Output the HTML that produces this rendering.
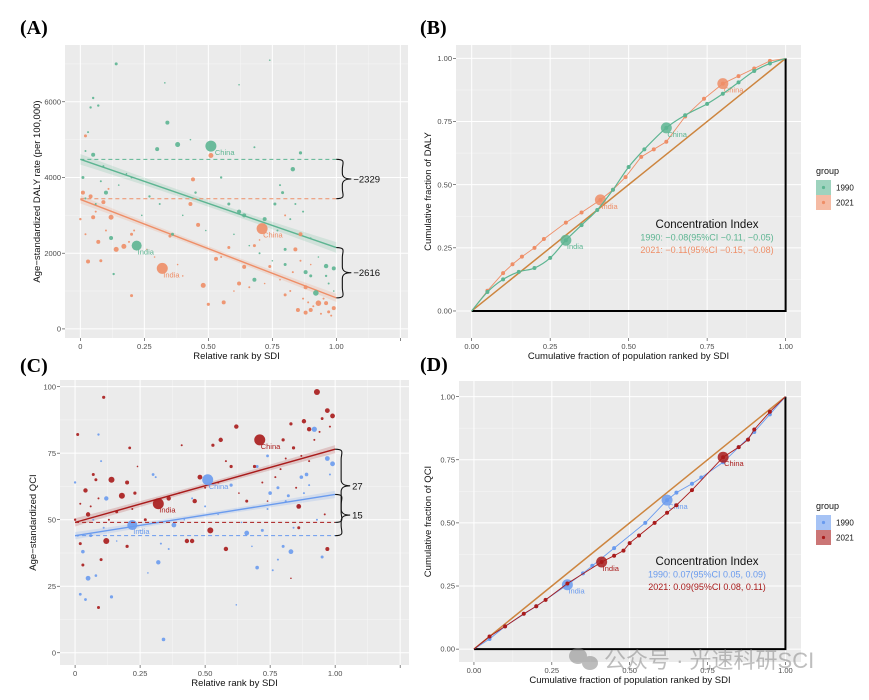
<!DOCTYPE html>
<html><head><meta charset="utf-8"><style>
body{margin:0;background:#fff;width:869px;height:695px;overflow:hidden}
svg text{font-family:"Liberation Sans","Noto Sans CJK SC",sans-serif}
.pl{font-family:"Liberation Serif",serif!important;font-weight:bold;font-size:20px}
</style></head><body>
<svg id="s" width="869" height="695" viewBox="0 0 869 695" xmlns="http://www.w3.org/2000/svg"></svg>
<script>
// ---- data ----
const aTicksY=[0,2000,4000,6000];
const relTicks=[0,0.25,0.5,0.75,1];
const relTickLabels=["0","0.25","0.50","0.75","1.00"];
const fracTicks=[0,0.25,0.5,0.75,1];
const fracTickLabels=["0.00","0.25","0.50","0.75","1.00"];
const a1990=[[0.51,4830,5.5],[0.22,2200,5],[0.38,4870,2.5],[0.34,5450,2],[0.14,7000,1.5],[0.83,4220,2.2],[0.86,4650,1.6],[0.96,1660,2.2],[0.99,1600,2],[0.92,950,2.8],[0.68,1300,2],[0.64,3000,2],[0.62,3100,2],[0.72,2900,2],[0.05,4600,2],[0.12,2400,2],[0.1,3600,2],[0.01,4000,1.5],[0.04,5850,1.2],[0.07,5900,1.2],[0.3,4750,2],[0.36,2500,1.5],[0.58,3300,1.5],[0.76,3300,1.5],[0.79,3600,1.5],[0.8,1700,1.5],[0.88,1500,2],[0.9,1400,1.5],[0.13,1450,1.2],[0.05,6100,1.2],[0.27,3500,1.2],[0.45,3600,1.2],[0.55,4000,1.2],[0.8,2100,1.5],[0.96,1400,1.2],[0.33,6500,0.8],[0.74,7100,0.8],[0.62,6450,0.8],[0.2,4000,1],[0.68,4800,1],
[0.02,3450,1],[0.06,3300,1],[0.08,3900,1],[0.09,4300,1],[0.15,3800,0.8],[0.18,4100,0.8],[0.24,3000,0.8],[0.31,3300,1],[0.4,3000,0.8],[0.49,2600,0.8],[0.6,2500,0.8],[0.66,2200,0.8],[0.7,2000,1],[0.77,2600,1],[0.78,3800,1],[0.82,2900,1],[0.84,3300,1],[0.87,3100,1],[0.9,2400,0.8],[0.93,1900,0.8],[0.97,1200,1],[0.99,1000,0.8],[0.75,1800,0.8],[0.43,5000,0.8],[0.02,4700,1],[0.03,5200,1]];
const a2021=[[0.71,2650,5.5],[0.32,1600,5.5],[0.51,4580,2.5],[0.44,3950,2],[0.43,3300,2],[0.46,2750,2],[0.35,2450,1.5],[0.17,2180,2.5],[0.14,2100,2.5],[0.12,2950,2.5],[0.05,2950,2],[0.03,1780,2],[0.08,1800,1.5],[0.07,2300,2],[0.48,1150,2.5],[0.56,700,2],[0.5,650,1.6],[0.62,1200,2],[0.64,1640,2],[0.93,680,2.8],[0.96,680,2],[0.99,550,2],[0.9,500,2],[0.88,430,2],[0.86,2500,2],[0.84,2100,2],[0.88,1100,2],[0.8,900,1.5],[0.02,5100,1.5],[0.2,880,1.5],[0.04,3500,2],[0.09,3350,2],[0.53,1850,2],[0.58,2150,1.5],[0.74,1650,1.5],[0.85,500,2],[0.97,450,1.5],[0.68,2200,1.5],[0.2,2500,1.5],[0.01,3600,2],
[0.0,2900,1.2],[0.02,2500,1],[0.06,3100,1],[0.1,2600,1],[0.11,3700,1],[0.19,2300,1],[0.21,2600,1],[0.26,2100,0.8],[0.29,1900,0.8],[0.38,1700,0.8],[0.4,1400,0.8],[0.55,1900,1],[0.6,1000,0.8],[0.66,1100,1],[0.72,1200,0.8],[0.78,1300,0.8],[0.82,1000,1],[0.83,1500,1],[0.87,800,1],[0.89,700,1],[0.91,600,1],[0.94,400,1],[0.98,350,1],[0.95,800,1],[0.86,1800,1],[0.8,3000,1],[0.9,1700,0.8],[0.7,2350,0.8]];
const aFit1990=[4480,2150], aFit2021=[3420,820], aBase1990=4480, aBase2021=3440;
const aGapLabels=["\u22122329","\u22122616"];
const bL1990=[[0,0],[0.05,0.075],[0.1,0.125],[0.15,0.155],[0.2,0.17],[0.25,0.21],[0.3,0.28],[0.35,0.34],[0.4,0.4],[0.45,0.48],[0.5,0.57],[0.55,0.64],[0.62,0.725],[0.68,0.775],[0.75,0.82],[0.8,0.86],[0.85,0.905],[0.9,0.95],[0.95,0.98],[1,1]];
const bL2021=[[0,0],[0.05,0.08],[0.1,0.15],[0.13,0.185],[0.16,0.215],[0.2,0.25],[0.23,0.285],[0.3,0.35],[0.35,0.39],[0.41,0.44],[0.45,0.48],[0.49,0.53],[0.54,0.61],[0.58,0.64],[0.62,0.67],[0.68,0.77],[0.74,0.84],[0.8,0.9],[0.85,0.93],[0.9,0.96],[0.95,0.99],[1,1]];
const bBig1990=[[0.3,0.28,"India"],[0.62,0.725,"China"]], bBig2021=[[0.41,0.44,"India"],[0.8,0.9,"China"]];
const cTicksY=[0,25,50,75,100];
const c1990=[[0.51,65,5.5],[0.22,48,5],[0.92,84,2.6],[0.97,73,2.4],[0.99,71,2.4],[0.87,66,1.8],[0.89,67,1.8],[0.05,28,2.4],[0.03,38,1.8],[0.12,58,2.2],[0.34,5,1.8],[0.32,34,2.2],[0.38,48,2.4],[0.66,45,2.4],[0.7,32,1.8],[0.83,38,2.4],[0.86,55,1.8],[0.75,60,1.8],[0.6,63,1.6],[0.02,22,1.4],[0.04,20,1.4],[0.14,21,1.6],[0.09,82,1.2],[0.0,64,1.2],[0.3,67,1.4],[0.74,74,1.4],[0.95,36,1.5],[0.78,62,1.5],[0.8,40,1.5],[0.72,46,1.5],[0.08,29,1.3],[0.1,72,1],[0.5,55,1],[0.45,58,1],[0.7,70,1.5],[0.06,44,1.5],[0.82,59,1.5],[0.31,66,1],
[0.01,44,1],[0.07,50,1],[0.11,47,1],[0.16,42,0.8],[0.25,46,0.8],[0.33,41,1],[0.36,39,1],[0.42,50,0.8],[0.55,52,0.8],[0.62,18,0.8],[0.68,40,0.8],[0.76,31,1],[0.78,35,1],[0.81,57,1],[0.84,47,1],[0.88,60,1],[0.9,63,1],[0.93,50,1],[0.98,67,1],[0.74,54,1],[0.64,49,0.8],[0.28,30,0.8]];
const c2021=[[0.71,80,5.5],[0.32,56,5.5],[0.93,98,3],[0.97,91,2.4],[0.99,89,2.4],[0.88,87,2.2],[0.9,84,2.2],[0.62,85,2.2],[0.56,80,2.2],[0.53,78,1.6],[0.48,66,2.4],[0.14,65,3],[0.18,59,3],[0.36,58,2.2],[0.2,64,2],[0.04,61,2.2],[0.05,52,2.2],[0.12,42,3],[0.11,96,1.6],[0.01,82,1.5],[0.23,60,1.6],[0.46,57,2.2],[0.52,46,3],[0.43,42,2.2],[0.45,42,2.2],[0.58,39,2.2],[0.86,55,2.4],[0.97,39,2],[0.03,33,1.5],[0.09,17,1.5],[0.1,35,1.5],[0.2,40,1.6],[0.83,86,1.6],[0.8,80,1.6],[0.69,70,1.6],[0.6,70,1.6],[0.27,50,1.5],[0.02,41,1.5],[0.08,65,1.5],[0.21,77,1.4],[0.95,88,1.4],[0.84,77,1.6],[0.86,47,1.5],[0.66,57,1.5],[0.07,67,1.5],[0.16,53,1.5],
[0.0,50,1.2],[0.02,56,1],[0.06,55,1],[0.09,58,1],[0.13,50,1],[0.22,54,1],[0.24,70,0.8],[0.4,60,0.8],[0.5,62,1],[0.55,64,1],[0.58,72,1],[0.63,60,0.8],[0.72,64,1],[0.77,66,1],[0.79,69,1],[0.81,73,1],[0.85,62,1],[0.87,74,1],[0.9,72,1],[0.92,80,1],[0.94,83,1],[0.98,85,1],[0.96,52,1],[0.83,28,0.8],[0.74,57,0.8],[0.41,78,1]];
const cFit1990=[44,59.5], cFit2021=[49,76.5], cBase1990=44, cBase2021=49;
const cGapLabels=["27","15"];
const dL1990=[[0,0],[0.05,0.04],[0.1,0.09],[0.2,0.17],[0.3,0.255],[0.35,0.3],[0.38,0.33],[0.45,0.4],[0.55,0.5],[0.62,0.59],[0.65,0.62],[0.7,0.655],[0.73,0.68],[0.8,0.74],[0.85,0.8],[0.9,0.86],[0.95,0.93],[1,1]];
const dL2021=[[0,0],[0.05,0.05],[0.1,0.09],[0.16,0.14],[0.2,0.17],[0.23,0.195],[0.3,0.26],[0.41,0.345],[0.45,0.37],[0.48,0.39],[0.5,0.42],[0.53,0.45],[0.58,0.5],[0.62,0.54],[0.65,0.57],[0.7,0.63],[0.8,0.76],[0.85,0.8],[0.88,0.83],[0.9,0.87],[0.95,0.94],[1,1]];
const dBig1990=[[0.3,0.255,"India"],[0.62,0.59,"China"]], dBig2021=[[0.41,0.345,"India"],[0.8,0.76,"China"]];

// ---- helpers ----
const S=document.getElementById('s'),NS="http://www.w3.org/2000/svg";
function el(t,a,p){const e=document.createElementNS(NS,t);for(const k in a)e.setAttribute(k,a[k]);(p||S).appendChild(e);return e;}
function txt(x,y,s,a,p){const e=el('text',Object.assign({x:x,y:y},a),p);e.textContent=s;return e;}
function mkScale(d0,d1,r0,r1){return v=>r0+(v-d0)/(d1-d0)*(r1-r0);}
function panel(P){
  const g=el('g',{});
  
  
  const bg=el('rect',{x:P.l,y:P.t,width:P.r-P.l,height:P.b-P.t,fill:'#ebebeb'},g);
  
  const X=mkScale(P.xd[0],P.xd[1],P.l,P.r),Y=mkScale(P.yd[0],P.yd[1],P.b,P.t);
  const xt=P.xt,yt=P.yt;
  const xm=[],ym=[];
  for(let i=0;i<xt.length;i++){xm.push(xt[i]+(xt[1]-xt[0])/2);}xm.push(xt[0]-(xt[1]-xt[0])/2);
  for(let i=0;i<yt.length;i++){ym.push(yt[i]+(yt[1]-yt[0])/2);}ym.push(yt[0]-(yt[1]-yt[0])/2);
  xm.forEach(v=>{const x=X(v);if(x>P.l&&x<P.r)el('line',{x1:x,x2:x,y1:P.t,y2:P.b,stroke:'#f7f7f7','stroke-width':0.5},g);});
  ym.forEach(v=>{const y=Y(v);if(y>P.t&&y<P.b)el('line',{x1:P.l,x2:P.r,y1:y,y2:y,stroke:'#f7f7f7','stroke-width':0.5},g);});
  const xl=P.xExtra?xt.concat(P.xExtra):xt;
  xl.forEach(v=>{const x=X(v);el('line',{x1:x,x2:x,y1:P.t,y2:P.b,stroke:'#fff','stroke-width':1},g);el('line',{x1:x,x2:x,y1:P.b,y2:P.b+3,stroke:'#333','stroke-width':0.6},g);});
  yt.forEach(v=>{const y=Y(v);el('line',{x1:P.l,x2:P.r,y1:y,y2:y,stroke:'#fff','stroke-width':1},g);el('line',{x1:P.l-3,x2:P.l,y1:y,y2:y,stroke:'#333','stroke-width':0.6},g);});
  xt.forEach((v,i)=>{const t=txt(X(v),P.b+11,P.xl[i],{'font-size':7.5,fill:'#4d4d4d','text-anchor':'middle'},g);});
  yt.forEach((v,i)=>{const t=txt(P.l-4,Y(v)+2.6,P.yl[i],{'font-size':7.5,fill:'#4d4d4d','text-anchor':'end'},g);});
  const xa=txt((P.l+P.r)/2,P.b+21,P.xTitle,{'font-size':9.5,fill:'#111','text-anchor':'middle'},g);
  
  const ya=txt(0,0,P.yTitle,{'font-size':9.5,fill:'#111','text-anchor':'middle',transform:`translate(${P.ytx},${(P.t+P.b)/2}) rotate(-90)`},g);
  
  const pl=txt(P.plx,P.ply,P.label,{class:'pl',fill:'#000'});
  
  return {g,X,Y};
}
function pts(g,X,Y,arr,col,op){arr.forEach(p=>{const c=el('circle',{cx:X(p[0]),cy:Y(p[1]),r:p[2],fill:col,'fill-opacity':op},g);});}
function fitLine(g,X,Y,fit,col,name){
  const n=20,up=[],lo=[];
  for(let i=0;i<=n;i++){const x=i/n,y=fit[0]+(fit[1]-fit[0])*x,w=(Y(0)-Y(fit[0]*0.035))*(0.55+1.4*Math.pow(x-0.5,2));up.push([X(x),Y(y)-w]);lo.unshift([X(x),Y(y)+w]);}
  const b=el('polygon',{points:up.concat(lo).map(p=>p.join(',')).join(' '),fill:col,'fill-opacity':0.18},g);
  
  const l=el('line',{x1:X(0),y1:Y(fit[0]),x2:X(1),y2:Y(fit[1]),stroke:col,'stroke-width':1.4},g);
  
}
function dash(g,X,Y,v,col,name){const l=el('line',{x1:X(0),y1:Y(v),x2:X(1),y2:Y(v),stroke:col,'stroke-width':1,'stroke-dasharray':'4,3'},g);}
function brace(g,x,y1,y2,lab){
  const m=(y1+y2)/2,w=10;
  const d=`M${x},${y1} C${x+w},${y1} ${x+w*0.6},${y1+4} ${x+w*0.6},${y1+10} L${x+w*0.6},${m-6} C${x+w*0.6},${m-1} ${x+w},${m} ${x+w+5},${m} C${x+w},${m} ${x+w*0.6},${m+1} ${x+w*0.6},${m+6} L${x+w*0.6},${y2-10} C${x+w*0.6},${y2-4} ${x+w},${y2} ${x},${y2}`;
  const p=el('path',{d:d,fill:'none',stroke:'#111','stroke-width':1.1},g);
  const t=txt(x+w+7,m+3.5,lab,{'font-size':9.5,fill:'#111'},g);
}
function spline(P){let d=`M${P[0][0]},${P[0][1]}`;for(let i=0;i<P.length-1;i++){const p0=P[i-1]||P[i],p1=P[i],p2=P[i+1],p3=P[i+2]||p2;d+=` C${p1[0]+(p2[0]-p0[0])/6},${p1[1]+(p2[1]-p0[1])/6} ${p2[0]-(p3[0]-p1[0])/6},${p2[1]-(p3[1]-p1[1])/6} ${p2[0]},${p2[1]}`;}return d;}
function lorenz(g,X,Y,arr,big,col,smooth,name){
  const P=arr.map(p=>[X(p[0]),Y(p[1])]);
  const l=el('path',{d:smooth?spline(P):'M'+P.map(p=>p.join(',')).join(' L'),fill:'none',stroke:col,'stroke-width':smooth?1.2:0.9},g);
  
  arr.forEach((p,i)=>{if(i>0&&i<arr.length-1){const c=el('circle',{cx:X(p[0]),cy:Y(p[1]),r:2,fill:col},g);}});
  big.forEach(p=>{const c=el('circle',{cx:X(p[0]),cy:Y(p[1]),r:5.5,fill:col,'fill-opacity':0.85},g);
    const t=txt(X(p[0])+1,Y(p[1])+9,p[2],{'font-size':7.5,fill:col},g);});
}
function eqLines(g,X,Y){
  const d=el('line',{x1:X(0),y1:Y(0),x2:X(1),y2:Y(1),stroke:'#cd853f','stroke-width':1.5},g);
  const b=el('polyline',{points:`${X(0)},${Y(0)} ${X(1)},${Y(0)} ${X(1)},${Y(1)}`,fill:'none',stroke:'#000','stroke-width':2},g);
}
function legend(x,y,c1,c2){
  const g=el('g',{});
  txt(x,y,'group',{'font-size':9,fill:'#111'},g);
  [[c1,'1990'],[c2,'2021']].forEach((k,i)=>{const yy=y+6+i*15;
    const r=el('rect',{x:x,y:yy,width:15,height:15,fill:k[0],'fill-opacity':0.6},g);
    el('circle',{cx:x+7.5,cy:yy+7.5,r:1.6,fill:k[0]},g);
    const t=txt(x+20,yy+10.5,k[1],{'font-size':8,fill:'#111'},g);});
}
function ci(g,x,y,l1,l2,c1,c2){
  const t=txt(x,y,'Concentration Index',{'font-size':11.5,fill:'#111','text-anchor':'middle'},g);
  const a=txt(x,y+12.5,l1,{'font-size':9,fill:c1,'text-anchor':'middle'},g);
  const b=txt(x,y+25,l2,{'font-size':9,fill:c2,'text-anchor':'middle'},g);
}
const G='#5db592',O='#ee8e67',BL='#6a9bee',R='#a91b1b';
// ---- Panel A ----
(function(){const {g,X,Y}=panel({name:'panel-a',l:65,r:408,t:45,b:338,xd:[-0.06,1.28],yd:[-240,7500],xt:relTicks,xl:relTickLabels,xExtra:[1.25],yt:aTicksY,yl:aTicksY.map(String),xTitle:'Relative rank by SDI',yTitle:'Age\u2212standardized DALY rate (per 100,000)',ytx:40,label:'(A)',plx:20,ply:34});
  fitLine(g,X,Y,aFit1990,G,'1990');fitLine(g,X,Y,aFit2021,O,'2021');
  pts(g,X,Y,a1990,G,0.9);pts(g,X,Y,a2021,O,0.9);
  dash(g,X,Y,aBase1990,G,'baseline-1990');dash(g,X,Y,aBase2021,O,'baseline-2021');
  txt(X(0.51)+4,Y(4830)+9,'China',{'font-size':7.5,fill:G},g);txt(X(0.22)+1,Y(2200)+9,'India',{'font-size':7.5,fill:G},g);
  txt(X(0.71)+1,Y(2650)+9,'China',{'font-size':7.5,fill:O},g);txt(X(0.32)+1,Y(1600)+9,'India',{'font-size':7.5,fill:O},g);
  brace(g,X(1),Y(aBase1990),Y(aBase2021),aGapLabels[0]);brace(g,X(1),Y(aFit1990[1]),Y(aFit2021[1]),aGapLabels[1]);
})();
// ---- Panel B ----
(function(){const {g,X,Y}=panel({name:'panel-b',l:456,r:801,t:45,b:338,xd:[-0.05,1.049],yd:[-0.107,1.053],xt:fracTicks,xl:fracTickLabels,yt:fracTicks,yl:fracTickLabels,xTitle:'Cumulative fraction of population ranked by SDI',yTitle:'Cumulative fraction of DALY',ytx:431,label:'(B)',plx:420,ply:34});
  eqLines(g,X,Y);lorenz(g,X,Y,bL2021,bBig2021,O,false,'2021');lorenz(g,X,Y,bL1990,bBig1990,G,true,'1990');
  ci(g,707,228,'1990: \u22120.08(95%CI \u22120.11, \u22120.05)','2021: \u22120.11(95%CI \u22120.15, \u22120.08)',G,O);
  legend(816,174,G,O);
})();
// ---- Panel C ----
(function(){const {g,X,Y}=panel({name:'panel-c',l:60,r:409,t:380,b:665,xd:[-0.058,1.284],yd:[-4.6,102.5],xt:relTicks,xl:relTickLabels,xExtra:[1.25],yt:cTicksY,yl:cTicksY.map(String),xTitle:'Relative rank by SDI',yTitle:'Age\u2212standardized QCI',ytx:36,label:'(C)',plx:20,ply:372});
  fitLine(g,X,Y,cFit1990,BL,'1990');fitLine(g,X,Y,cFit2021,R,'2021');
  pts(g,X,Y,c1990,BL,0.9);pts(g,X,Y,c2021,R,0.9);
  dash(g,X,Y,cBase2021,R,'baseline-2021');dash(g,X,Y,cBase1990,BL,'baseline-1990');
  txt(X(0.71)+1,Y(80)+9,'China',{'font-size':7.5,fill:R},g);txt(X(0.32)+1,Y(56)+9,'India',{'font-size':7.5,fill:R},g);
  txt(X(0.51)+1,Y(65)+9,'China',{'font-size':7.5,fill:BL},g);txt(X(0.22)+1,Y(48)+9,'India',{'font-size':7.5,fill:BL},g);
  brace(g,X(1),Y(cFit2021[1]),Y(cBase2021),cGapLabels[0]);brace(g,X(1),Y(cFit1990[1]),Y(cBase1990),cGapLabels[1]);
})();
// ---- Panel D ----
(function(){const {g,X,Y}=panel({name:'panel-d',l:459,r:801,t:381,b:662,xd:[-0.048,1.05],yd:[-0.051,1.062],xt:fracTicks,xl:fracTickLabels,yt:fracTicks,yl:fracTickLabels,xTitle:'Cumulative fraction of population ranked by SDI',yTitle:'Cumulative fraction of QCI',ytx:431,label:'(D)',plx:420,ply:371});
  eqLines(g,X,Y);lorenz(g,X,Y,dL1990,dBig1990,BL,false,'1990');lorenz(g,X,Y,dL2021,dBig2021,R,false,'2021');
  ci(g,707,565,'1990: 0.07(95%CI 0.05, 0.09)','2021: 0.09(95%CI 0.08, 0.11)',BL,R);
  legend(816,509,BL,R);
})();
// watermark
const wm=el('g',{opacity:0.55});

el('ellipse',{cx:578,cy:656,rx:9,ry:8,fill:'#888'},wm);el('ellipse',{cx:590,cy:663,rx:8,ry:7,fill:'#888'},wm);
txt(604,668,'公众号 · 光速科研SCI',{'font-size':22,fill:'#8a8a8a'},wm);
</script>
</body></html>
